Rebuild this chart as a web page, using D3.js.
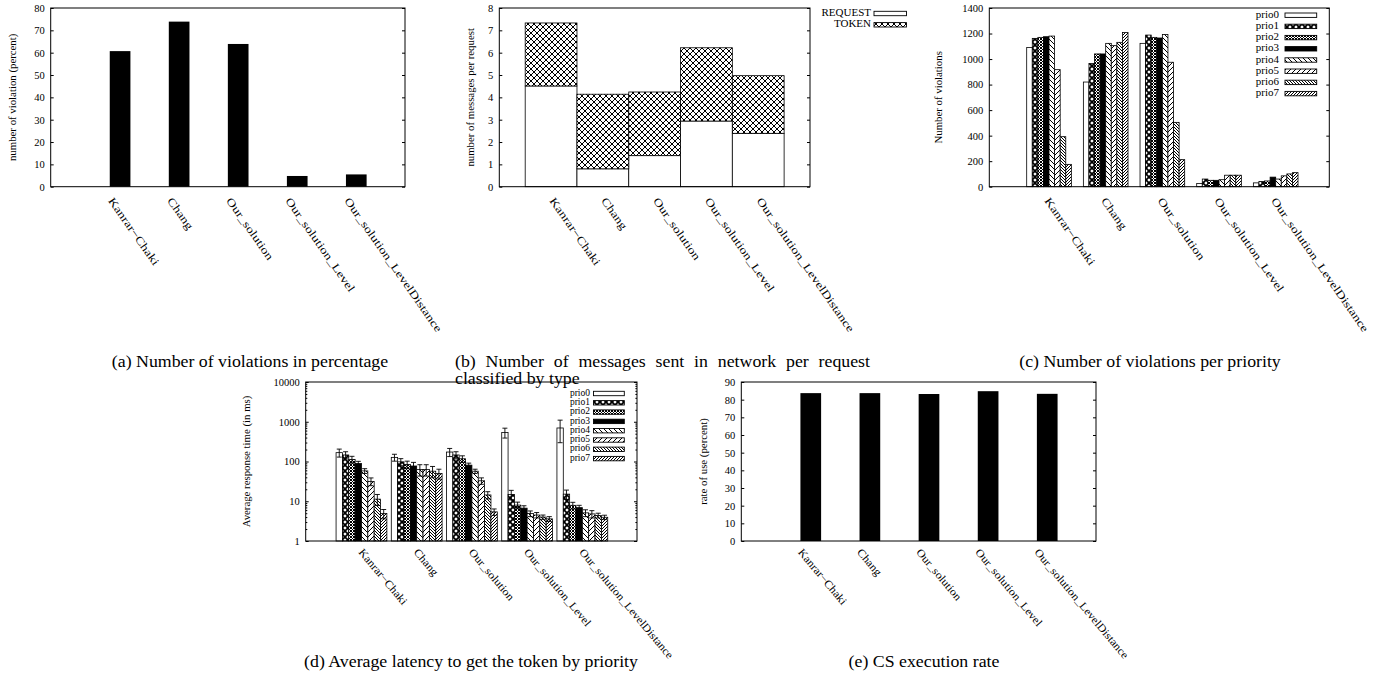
<!DOCTYPE html>
<html>
<head>
<meta charset="utf-8">
<script src="https://cdn.jsdelivr.net/npm/d3@7"></script>
<style>
  body { margin: 0; background: #fff; }
  text { font-family: "Liberation Serif", "Times New Roman", serif; fill: #000; }
</style>
</head>
<body>
<svg id="fig" width="1385" height="679"></svg>
<script>
// ---- data ----
const algorithms = ["Kanrar\u2212Chaki", "Chang", "Our_solution", "Our_solution_Level", "Our_solution_LevelDistance"];
const priorities = ["prio0", "prio1", "prio2", "prio3", "prio4", "prio5", "prio6", "prio7"];

const violationPercent = [60.7, 73.9, 63.9, 4.8, 5.5];
const requestMsgs = [4.51, 0.80, 1.39, 2.94, 2.39];
const tokenMsgs = [2.82, 3.34, 2.85, 3.28, 2.58];

const violationsByPrio = [
    [1091, 1162, 1170, 1175, 1180, 917, 392, 175],
    [820, 966, 1040, 1040, 1123, 1105, 1131, 1208],
    [1123, 1188, 1170, 1165, 1193, 975, 504, 212],
    [25, 60, 50, 50, 55, 90, 90, 90],
    [30, 40, 45, 75, 60, 85, 100, 110]
];

const latencyByPrio = [
    [167, 146, 113, 89, 58, 31.6, 11.3, 4.9],
    [127, 98, 84, 77, 63, 63, 57, 50],
    [173, 146, 117, 81, 57, 32.7, 14.4, 5.4],
    [539, 14.8, 8.0, 6.7, 4.9, 4.5, 4.0, 3.6],
    [697, 15.1, 7.9, 6.9, 5.1, 4.8, 4.4, 3.95]
];
const latencyErr = [
    [38, 30, 22, 12, 8, 7, 3.5, 1.3],
    [25, 20, 18, 18, 20, 20, 18, 14],
    [40, 30, 22, 10, 7, 6, 3, 1],
    [150, 4, 1.5, 1, 0.8, 0.7, 0.5, 0.5],
    [400, 4, 1.5, 1, 1, 1, 0.6, 0.5]
];

const csRate = [83.7, 83.7, 83.2, 84.8, 83.3];

const ticksA = [0, 10, 20, 30, 40, 50, 60, 70, 80];
const ticksB = [0, 1, 2, 3, 4, 5, 6, 7, 8];
const ticksC = [0, 200, 400, 600, 800, 1000, 1200, 1400];
const ticksD = [1, 10, 100, 1000, 10000];
const ticksE = [0, 10, 20, 30, 40, 50, 60, 70, 80, 90];

const captions = {
    a: "(a) Number of violations in percentage",
    b1: "(b) Number of messages sent in network per request",
    b2: "classified by type",
    c: "(c) Number of violations per priority",
    d: "(d) Average latency to get the token by priority",
    e: "(e) CS execution rate"
};

const svg = d3.select("#fig");
svg.append("rect").attr("width", 1385).attr("height", 679).attr("fill", "#fff");

// ---- fill patterns (gnuplot style) ----
const defs = svg.append("defs");
function pattern(id, size, d, sw) {
    const p = defs.append("pattern")
        .attr("id", id)
        .attr("patternUnits", "userSpaceOnUse")
        .attr("width", size)
        .attr("height", size);
    p.append("rect").attr("width", size).attr("height", size).attr("fill", "#fff");
    p.append("path").attr("d", d).attr("stroke", "#000").attr("stroke-width", sw).attr("fill", "none");
}
function crossPath(s) { return `M0,0L${s},${s}M${s},0L0,${s}`; }
function backPath(s) { return `M0,0L${s},${s}M${-s / 2},${s / 2}L${s / 2},${s * 1.5}M${s / 2},${-s / 2}L${s * 1.5},${s / 2}`; }
function fwdPath(s) { return `M0,${s}L${s},0M${-s / 2},${s / 2}L${s / 2},${-s / 2}M${s / 2},${s * 1.5}L${s * 1.5},${s / 2}`; }

pattern("pCross", 6, crossPath(6), 1);
pattern("pCrossBold", 6, crossPath(6), 1.8);
pattern("pCrossDense", 3, crossPath(3), 1);
pattern("pBack", 5, backPath(5), 1);
pattern("pFwd", 5, fwdPath(5), 1);
pattern("pBackDense", 3, backPath(3), 1);
pattern("pFwdDense", 3, fwdPath(3), 1);

const prioFill = ["#fff", "url(#pCrossBold)", "url(#pCrossDense)", "#000",
                  "url(#pBack)", "url(#pFwd)", "url(#pBackDense)", "url(#pFwdDense)"];

// ---- helpers ----
function panel(box, yScale, ticks, opts) {
    const g = svg.append("g");
    const x = d3.scaleLinear().domain([-1, 5]).range([box.x0, box.x1]);
    const y = yScale.range([box.y1, box.y0]);
    return { g, x, y, box, ticks, opts };
}

function drawAxes(p, titleText, titleX, lab) {
    const { g, y, box, ticks, opts } = p;

    const left = g.append("g")
        .attr("transform", `translate(${box.x0},0)`)
        .call(d3.axisLeft(y).tickValues(ticks).tickSize(-3).tickPadding(6)
            .tickFormat(d3.format("d")));
    left.select(".domain").remove();
    left.selectAll("text")
        .attr("font-family", "Liberation Serif, serif")
        .attr("font-size", 10.5);

    const right = g.append("g")
        .attr("transform", `translate(${box.x1},0)`)
        .call(d3.axisRight(y).tickValues(ticks).tickSize(-3).tickFormat(""));
    right.select(".domain").remove();

    if (opts.minor) {
        [box.x0, box.x1].forEach((xx, k) => {
            const ax = k === 0 ? d3.axisLeft(y) : d3.axisRight(y);
            const m = g.append("g")
                .attr("transform", `translate(${xx},0)`)
                .call(ax.tickValues(opts.minor).tickSize(-1.6).tickFormat(""));
            m.select(".domain").remove();
        });
    }

    g.append("rect")
        .attr("x", box.x0).attr("y", box.y0)
        .attr("width", box.x1 - box.x0).attr("height", box.y1 - box.y0)
        .attr("fill", "none").attr("stroke", "#000").attr("stroke-width", 1);

    g.append("text")
        .attr("transform", `translate(${titleX},${(box.y0 + box.y1) / 2}) rotate(-90)`)
        .attr("text-anchor", "middle")
        .attr("dominant-baseline", "middle")
        .attr("font-size", 10.8)
        .text(titleText);

    // rotated category labels
    g.selectAll("text.xl")
        .data(algorithms)
        .join("text")
        .attr("class", "xl")
        .attr("transform", (d, i) =>
            `translate(${p.x(i) + lab.dx},${box.y1 + lab.dy}) rotate(${lab.angle}) scale(${lab.stretch},1)`)
        .attr("font-size", 11)
        .text(d => d);
}

function legend(g, entries, fills, textRight, boxX0, boxX1, y0, step, fontSize) {
    entries.forEach((name, i) => {
        const cy = y0 + i * step;
        g.append("text")
            .attr("x", textRight).attr("y", cy)
            .attr("text-anchor", "end")
            .attr("dominant-baseline", "middle")
            .attr("font-size", fontSize)
            .text(name);
        g.append("rect")
            .attr("x", boxX0).attr("y", cy - 2.2)
            .attr("width", boxX1 - boxX0).attr("height", 4.4)
            .attr("fill", fills[i]).attr("stroke", "#000").attr("stroke-width", 0.9);
    });
}

function caption(text, x, y, anchor, wordSpacing) {
    const t = svg.append("text")
        .attr("transform", `translate(${x},${y}) scale(1.08,1)`)
        .attr("text-anchor", anchor)
        .attr("font-size", 16.5)
        .text(text);
    if (wordSpacing) t.attr("word-spacing", wordSpacing);
}

const topLab = { dx: -2, dy: 14, angle: 55, stretch: 1.27 };
const botLab = { dx: -3, dy: 11.5, angle: 50, stretch: 1.1 };

// ---- (a) violations in percent ----
const pa = panel({ x0: 50.7, x1: 405, y0: 8, y1: 186.7 }, d3.scaleLinear().domain([0, 80]), ticksA, {});
pa.g.selectAll("rect.bar")
    .data(violationPercent)
    .join("rect")
    .attr("x", (d, i) => pa.x(i))
    .attr("width", pa.x(0.35) - pa.x(0))
    .attr("y", d => pa.y(d))
    .attr("height", d => pa.y(0) - pa.y(d))
    .attr("fill", "#000");
drawAxes(pa, "number of violation (percent)", 13.3, topLab);

// ---- (b) messages per request ----
const pb = panel({ x0: 499.3, x1: 810, y0: 8, y1: 186.7 }, d3.scaleLinear().domain([0, 8]), ticksB, {});
const bw = pb.x(0.5) - pb.x(-0.5);
pb.g.selectAll("rect.req")
    .data(requestMsgs)
    .join("rect")
    .attr("x", (d, i) => pb.x(i - 0.5))
    .attr("width", bw)
    .attr("y", d => pb.y(d))
    .attr("height", d => pb.y(0) - pb.y(d))
    .attr("fill", "#fff").attr("stroke", "#000").attr("stroke-width", 0.8);
pb.g.selectAll("rect.tok")
    .data(tokenMsgs)
    .join("rect")
    .attr("x", (d, i) => pb.x(i - 0.5))
    .attr("width", bw)
    .attr("y", (d, i) => pb.y(requestMsgs[i] + d))
    .attr("height", (d, i) => pb.y(requestMsgs[i]) - pb.y(requestMsgs[i] + d))
    .attr("fill", "url(#pCross)").attr("stroke", "#000").attr("stroke-width", 0.8);
drawAxes(pb, "number of messages per request", 471.3, topLab);
legend(pb.g, ["REQUEST", "TOKEN"], ["#fff", "url(#pCross)"], 871, 874, 906.5, 13.5, 11.3, 11);

// ---- (c) violations per priority ----
const pc = panel({ x0: 989.3, x1: 1329.3, y0: 8, y1: 186.7 }, d3.scaleLinear().domain([0, 1400]), ticksC, {});
const cbw = 0.0985;
violationsByPrio.forEach((vals, i) => {
    pc.g.selectAll(null)
        .data(vals)
        .join("rect")
        .attr("x", (d, k) => pc.x(i - 0.34 + k * cbw))
        .attr("width", pc.x(cbw) - pc.x(0))
        .attr("y", d => pc.y(d))
        .attr("height", d => pc.y(0) - pc.y(d))
        .attr("fill", (d, k) => prioFill[k])
        .attr("stroke", "#000").attr("stroke-width", 0.8);
});
drawAxes(pc, "Number of violations", 939.3, topLab);
legend(pc.g, priorities, prioFill, 1279, 1285, 1316.7, 15.2, 11.2, 11);

// ---- (d) latency per priority (log) ----
const minorD = [];
[1, 10, 100, 1000].forEach(b => [2, 3, 4, 5, 6, 7, 8, 9].forEach(m => minorD.push(b * m)));
const pd = panel({ x0: 305.7, x1: 637, y0: 382, y1: 541 }, d3.scaleLog().domain([1, 10000]), ticksD,
    { minor: minorD });
const dbw = 0.115;
latencyByPrio.forEach((vals, i) => {
    pd.g.selectAll(null)
        .data(vals)
        .join("rect")
        .attr("x", (d, k) => pd.x(i - 0.45 + k * dbw))
        .attr("width", pd.x(dbw) - pd.x(0))
        .attr("y", d => pd.y(d))
        .attr("height", d => pd.y(1) - pd.y(d))
        .attr("fill", (d, k) => prioFill[k])
        .attr("stroke", "#000").attr("stroke-width", 0.8);
    const err = pd.g.selectAll(null)
        .data(vals.map((v, k) => ({ v, e: latencyErr[i][k], k })))
        .join("g")
        .attr("stroke", "#000").attr("stroke-width", 0.9);
    const cx = d => pd.x(i - 0.45 + (d.k + 0.5) * dbw);
    const lo = d => pd.y(Math.max(d.v - d.e, 1.01));
    const hi = d => pd.y(d.v + d.e);
    err.append("line").attr("x1", cx).attr("x2", cx).attr("y1", hi).attr("y2", lo);
    err.append("line").attr("x1", d => cx(d) - 2.5).attr("x2", d => cx(d) + 2.5).attr("y1", hi).attr("y2", hi);
    err.append("line").attr("x1", d => cx(d) - 2.5).attr("x2", d => cx(d) + 2.5).attr("y1", lo).attr("y2", lo);
});
drawAxes(pd, "Average response time (in ms)", 247.3, botLab);
legend(pd.g, priorities, prioFill, 590, 593.5, 624.3, 393.5, 9.3, 9.5);

// ---- (e) CS execution rate ----
const pe = panel({ x0: 741.3, x1: 1096, y0: 382, y1: 541 }, d3.scaleLinear().domain([0, 90]), ticksE, {});
pe.g.selectAll("rect.bar")
    .data(csRate)
    .join("rect")
    .attr("x", (d, i) => pe.x(i))
    .attr("width", pe.x(0.35) - pe.x(0))
    .attr("y", d => pe.y(d))
    .attr("height", d => pe.y(0) - pe.y(d))
    .attr("fill", "#000");
drawAxes(pe, "rate of use (percent)", 705, botLab);

// ---- captions ----
caption(captions.a, 250, 367, "middle");
caption(captions.b1, 455, 367, "start", 5);
caption(captions.b2, 455, 384, "start");
caption(captions.c, 1150, 367, "middle");
caption(captions.d, 471, 667, "middle");
caption(captions.e, 924, 667, "middle");
</script>
</body>
</html>
